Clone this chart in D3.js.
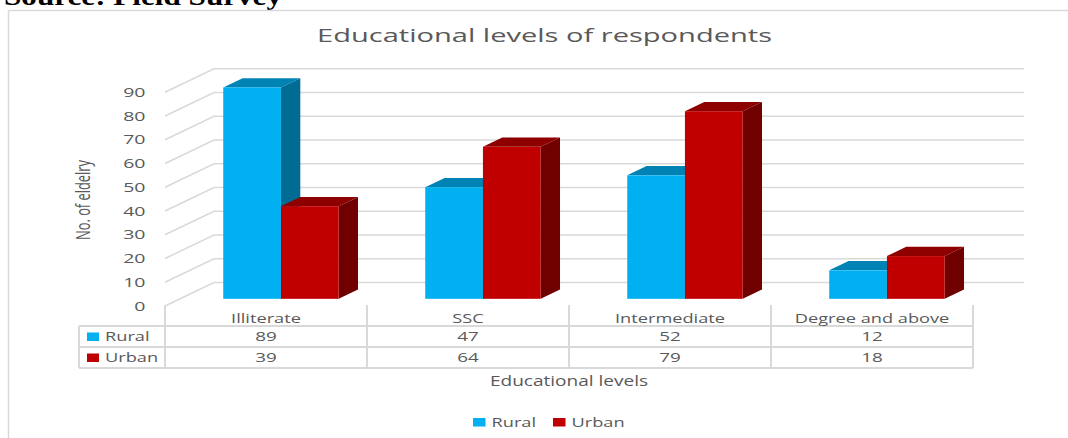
<!DOCTYPE html>
<html><head><meta charset="utf-8">
<script src="https://cdn.jsdelivr.net/npm/d3@7"></script>
<style>
html,body{margin:0;padding:0;background:#fff;}
svg{display:block;}
text{font-family:"Open Sans","DejaVu Sans",sans-serif;fill:#595959;}
</style></head>
<body><svg id="chart" width="1068" height="438"></svg>
<script>
const categories = ["Illiterate", "SSC", "Intermediate", "Degree and above"];
const seriesNames = ["Rural", "Urban"];
const ruralValues = [89, 47, 52, 12];
const urbanValues = [39, 64, 79, 18];
const yTicks = [0, 10, 20, 30, 40, 50, 60, 70, 80, 90];
const chartTitle = "Educational levels of respondents";
const xTitle = "Educational levels";
const yTitle = "No. of eldelry";
const sourceNote = "Source: Field Survey";

const seriesValues = [ruralValues, urbanValues];
const colors = {
  Rural: {front: "#00B0F0", top: "#0083B4", side: "#006C94"},
  Urban: {front: "#C00000", top: "#8E0000", side: "#700000"}
};

const svg = d3.select("#chart");
const W = 1068, H = 438;
const SX = 1.37; // horizontal text stretch

// 3D projection parameters
const DX = 49, DY = -23.5;
const Z0 = 0.305, Z1 = 0.70;

const x = d3.scaleBand().domain(categories).range([165, 973]).paddingInner(0).paddingOuter(0);
const xs = d3.scaleBand().domain(seriesNames).range([0, x.bandwidth()]).paddingInner(0).paddingOuter(0.75);
const y = d3.scaleLinear().domain([0, 90]).range([306, 306 - 2.375 * 90]);
const P = (xf, v, z) => [xf + z * DX, y(v) + z * DY];

function stext(g, tx, ty, str, opts) {
  const o = Object.assign({size: 13.5, anchor: "middle", sx: SX, color: "#595959", weight: "normal", family: null}, opts || {});
  const t = g.append("text")
    .attr("transform", `translate(${tx},${ty}) scale(${o.sx},1)`)
    .attr("text-anchor", o.anchor)
    .attr("font-size", o.size)
    .attr("font-weight", o.weight)
    .style("fill", o.color)
    .text(str);
  if (o.family) t.style("font-family", o.family);
  return t;
}

// Source note (cropped at top, as in the reference)
svg.append("text")
  .attr("x", 4).attr("y", 5)
  .attr("font-size", 26).attr("font-weight", "bold")
  .attr("textLength", 278).attr("lengthAdjust", "spacingAndGlyphs")
  .style("font-family", "'Liberation Serif','Times New Roman',serif")
  .style("fill", "#000")
  .text(sourceNote);

// chart frame
svg.append("line").attr("x1", 8).attr("y1", 10.5).attr("x2", W).attr("y2", 10.5)
  .attr("stroke", "#d9d9d9").attr("stroke-width", 1.5);
svg.append("line").attr("x1", 8.5).attr("y1", 10).attr("x2", 8.5).attr("y2", H)
  .attr("stroke", "#d9d9d9").attr("stroke-width", 1.5);

// Title
svg.append("text")
  .attr("x", 544.5).attr("y", 41.5)
  .attr("text-anchor", "middle")
  .attr("font-size", 19)
  .attr("textLength", 455).attr("lengthAdjust", "spacingAndGlyphs")
  .text(chartTitle);

// Gridlines: side wall slants + back wall
const grid = svg.append("g").attr("stroke", "#d9d9d9").attr("stroke-width", 1.5).attr("fill", "none");
const xStart = x.range()[0], xEnd = x.range()[1];
yTicks.forEach(v => {
  const a = P(xStart, v, 0), b = P(xStart, v, 1), c = P(xEnd + 2, v, 1);
  grid.append("path").attr("d", `M${a[0]},${a[1]}L${b[0]},${b[1]}L${c[0]},${c[1]}`);
});

// Y tick labels
const yl = svg.append("g");
yTicks.forEach(v => {
  stext(yl, 145.5, y(v) + 4.5, String(v), {anchor: "end", size: 13, sx: 1.5});
});

// Y title
svg.append("text")
  .attr("transform", `translate(90,200) scale(1.3,1) rotate(-90)`)
  .attr("text-anchor", "middle")
  .attr("font-size", 16)
  .attr("textLength", 80).attr("lengthAdjust", "spacingAndGlyphs")
  .text(yTitle);

// Bars
const bars = svg.append("g");
categories.forEach((cat, i) => {
  seriesNames.forEach((s, si) => {
    const v = seriesValues[si][i];
    const x0 = x(cat) + xs(s), w = xs.bandwidth();
    const col = colors[s];
    const f0 = P(x0, v, Z0), f1 = P(x0 + w, 0, Z0);
    const poly = pts => pts.map(p => p.join(",")).join(" ");
    bars.append("polygon")
      .attr("points", poly([P(x0, v, Z0), P(x0 + w, v, Z0), P(x0 + w, v, Z1), P(x0, v, Z1)]))
      .attr("fill", col.top);
    bars.append("polygon")
      .attr("points", poly([P(x0 + w, v, Z0), P(x0 + w, v, Z1), P(x0 + w, 0, Z1), P(x0 + w, 0, Z0)]))
      .attr("fill", col.side);
    bars.append("rect")
      .attr("x", f0[0]).attr("y", f0[1])
      .attr("width", f1[0] - f0[0]).attr("height", f1[1] - f0[1])
      .attr("fill", col.front);
  });
});

// Data table
const tbl = svg.append("g").attr("stroke", "#d9d9d9").attr("stroke-width", 2).attr("fill", "none");
const rowY = [326, 347, 368];
const leftX = 79;
rowY.forEach(yy => tbl.append("line").attr("x1", leftX).attr("x2", xEnd).attr("y1", yy).attr("y2", yy));
tbl.append("line").attr("x1", leftX).attr("x2", leftX).attr("y1", 326).attr("y2", 368);
const dividers = categories.map(c => x(c)).concat([xEnd]);
dividers.forEach(xx => tbl.append("line").attr("x1", xx).attr("x2", xx).attr("y1", 305).attr("y2", 368));

const tt = svg.append("g");
categories.forEach((cat, i) => {
  const cx = x(cat) + x.bandwidth() / 2;
  stext(tt, cx, 322.5, cat, {size: 13.5, sx: 1.35});
  stext(tt, cx, 341, String(ruralValues[i]), {size: 13, sx: 1.45});
  stext(tt, cx, 362, String(urbanValues[i]), {size: 13, sx: 1.45});
});
seriesNames.forEach((s, si) => {
  const yy = rowY[si];
  tt.append("rect").attr("x", 87).attr("y", yy + 6.5).attr("width", 12).attr("height", 8.5)
    .attr("fill", colors[s].front);
  stext(tt, 105, yy + 15, s, {anchor: "start", size: 13.5, sx: 1.35});
});

// X title
stext(svg, 569, 386, xTitle, {size: 14, sx: 1.36});

// Legend
const lg = svg.append("g");
const legendX = [473, 553];
seriesNames.forEach((s, si) => {
  lg.append("rect").attr("x", legendX[si]).attr("y", 418).attr("width", 12.5).attr("height", 8.5)
    .attr("fill", colors[s].front);
  stext(lg, legendX[si] + 18.5, 427, s, {anchor: "start", size: 13.5, sx: 1.35});
});
</script>
</body></html>
